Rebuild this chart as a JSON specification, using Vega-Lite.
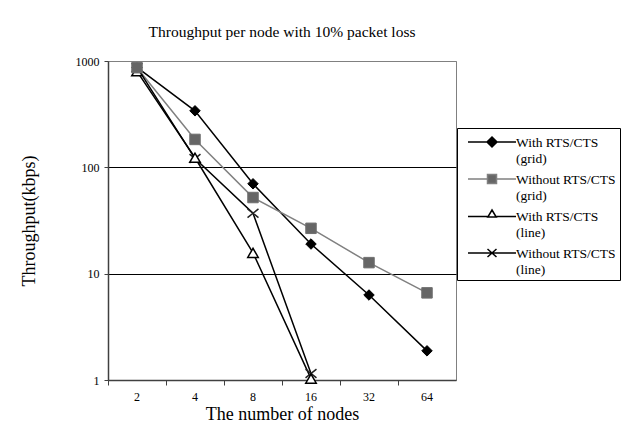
{
  "$schema": "https://vega.github.io/schema/vega-lite/v6.json",
  "autosize": "none",
  "width": 348,
  "height": 319,
  "padding": {"left": 108, "top": 61, "right": 177, "bottom": 58},
  "background": "white",
  "title": {"text": "Throughput per node with 10% packet loss", "font": "Liberation Serif", "fontSize": 15.5, "fontWeight": "normal", "color": "black", "offset": 15},
  "config": {
    "view": {"stroke": "#808080", "strokeWidth": 1},
    "axis": {"labelFont": "Liberation Serif", "titleFont": "Liberation Serif", "labelColor": "black", "titleColor": "black", "titleFontWeight": "normal", "domainColor": "#404040", "tickColor": "#404040", "domainWidth": 1.5}
  },
  "data": {"values": [
    {"series": "With RTS/CTS (grid)", "nodes": 2, "kbps": 870},
    {"series": "With RTS/CTS (grid)", "nodes": 4, "kbps": 340},
    {"series": "With RTS/CTS (grid)", "nodes": 8, "kbps": 70},
    {"series": "With RTS/CTS (grid)", "nodes": 16, "kbps": 19},
    {"series": "With RTS/CTS (grid)", "nodes": 32, "kbps": 6.3},
    {"series": "With RTS/CTS (grid)", "nodes": 64, "kbps": 1.88},
    {"series": "Without RTS/CTS (grid)", "nodes": 2, "kbps": 865},
    {"series": "Without RTS/CTS (grid)", "nodes": 4, "kbps": 183},
    {"series": "Without RTS/CTS (grid)", "nodes": 8, "kbps": 52},
    {"series": "Without RTS/CTS (grid)", "nodes": 16, "kbps": 26.7},
    {"series": "Without RTS/CTS (grid)", "nodes": 32, "kbps": 12.7},
    {"series": "Without RTS/CTS (grid)", "nodes": 64, "kbps": 6.6},
    {"series": "With RTS/CTS (line)", "nodes": 2, "kbps": 800},
    {"series": "With RTS/CTS (line)", "nodes": 4, "kbps": 123},
    {"series": "With RTS/CTS (line)", "nodes": 8, "kbps": 15.7},
    {"series": "With RTS/CTS (line)", "nodes": 16, "kbps": 1.03},
    {"series": "Without RTS/CTS (line)", "nodes": 2, "kbps": 870},
    {"series": "Without RTS/CTS (line)", "nodes": 4, "kbps": 121},
    {"series": "Without RTS/CTS (line)", "nodes": 8, "kbps": 37},
    {"series": "Without RTS/CTS (line)", "nodes": 16, "kbps": 1.15}
  ]},
  "encoding": {
    "x": {"field": "nodes", "type": "ordinal", "sort": "ascending",
      "scale": {"type": "band", "paddingInner": 0, "paddingOuter": 0},
      "axis": {"title": "The number of nodes", "titleFontSize": 18, "titlePadding": 3, "labelFontSize": 12, "labelAngle": 0, "labelPadding": 6, "tickSize": 5, "bandPosition": 0, "grid": false}},
    "y": {"field": "kbps", "type": "quantitative",
      "scale": {"type": "log", "domain": [1, 1000], "nice": false},
      "axis": {"title": "Throughput(kbps)", "titleFontSize": 18, "titlePadding": 37, "values": [1, 10, 100, 1000], "format": "d", "labelFontSize": 12, "labelPadding": 5, "tickSize": 4, "grid": true, "gridColor": {"condition": {"test": "datum.value >= 1000 || datum.value <= 1", "value": "#808080"}, "value": "black"}, "gridWidth": 1}}
  },
  "layer": [
    {
      "mark": {"type": "line", "strokeWidth": 1.5},
      "encoding": {
        "stroke": {"field": "series", "type": "nominal",
          "scale": {"domain": ["With RTS/CTS (grid)", "Without RTS/CTS (grid)", "With RTS/CTS (line)", "Without RTS/CTS (line)"], "range": ["black", "#808080", "black", "black"]}}
      }
    },
    {
      "transform": [{"filter": "datum.series === 'Without RTS/CTS (line)'"}],
      "mark": {"type": "point", "opacity": 1, "size": 120, "strokeWidth": 1.5, "shape": "M-1,-0.8L1,0.8M-1,0.8L1,-0.8", "stroke": "#222222", "fill": "transparent"}
    },
    {
      "transform": [{"filter": "datum.series === 'With RTS/CTS (line)'"}],
      "mark": {"type": "point", "opacity": 1, "size": 110, "strokeWidth": 1.5, "shape": "triangle-up", "stroke": "black", "fill": "white"}
    },
    {
      "transform": [{"filter": "datum.series === 'With RTS/CTS (grid)'"}],
      "mark": {"type": "point", "opacity": 1, "size": 110, "strokeWidth": 1, "shape": "diamond", "stroke": "black", "fill": "black"}
    },
    {
      "transform": [{"filter": "datum.series === 'Without RTS/CTS (grid)'"}],
      "mark": {"type": "point", "opacity": 1, "size": 110, "strokeWidth": 1, "shape": "square", "stroke": "#707070", "fill": "#666666"}
    },
    {
      "transform": [{"filter": "false"}],
      "mark": {"type": "point", "opacity": 1, "strokeWidth": 1.5},
      "encoding": {
        "stroke": {"field": "series", "type": "nominal"},
        "fill": {"field": "series", "type": "nominal",
          "scale": {"domain": ["With RTS/CTS (grid)", "Without RTS/CTS (grid)", "With RTS/CTS (line)", "Without RTS/CTS (line)"], "range": ["black", "#666666", "white", "transparent"]}},
        "shape": {"field": "series", "type": "nominal",
          "scale": {"domain": ["With RTS/CTS (grid)", "Without RTS/CTS (grid)", "With RTS/CTS (line)", "Without RTS/CTS (line)"], "range": [
            "M-0.4,-0.1L4.4,-0.1M2,-0.6L2.5,-0.1L2,0.4L1.5,-0.1Z",
            "M-0.4,-0.1L1.55,-0.1M2.45,-0.1L4.4,-0.1M1.55,-0.55L2.45,-0.55L2.45,0.35L1.55,0.35Z",
            "M-0.4,-0.05L1.55,-0.05M2.45,-0.05L4.4,-0.05M2,-0.7L2.42,0L1.58,0Z",
            "M-0.4,-0.1L4.4,-0.1M1.55,-0.5L2.45,0.3M1.55,0.3L2.45,-0.5"]},
          "legend": {
            "title": null, "orient": "none", "legendX": 349, "legendY": 67,
            "strokeColor": "black", "fillColor": "white", "padding": 4,
            "symbolSize": 400, "symbolStrokeWidth": 1.5, "rowPadding": 4,
            "labelFont": "Liberation Serif", "labelFontSize": 13.5, "labelColor": "black", "labelOffset": 33, "labelLimit": 200,
            "labelExpr": "[slice(datum.label, 0, lastindexof(datum.label, ' (')), slice(datum.label, lastindexof(datum.label, ' (') + 1)]"
          }}
      }
    }
  ]
}
